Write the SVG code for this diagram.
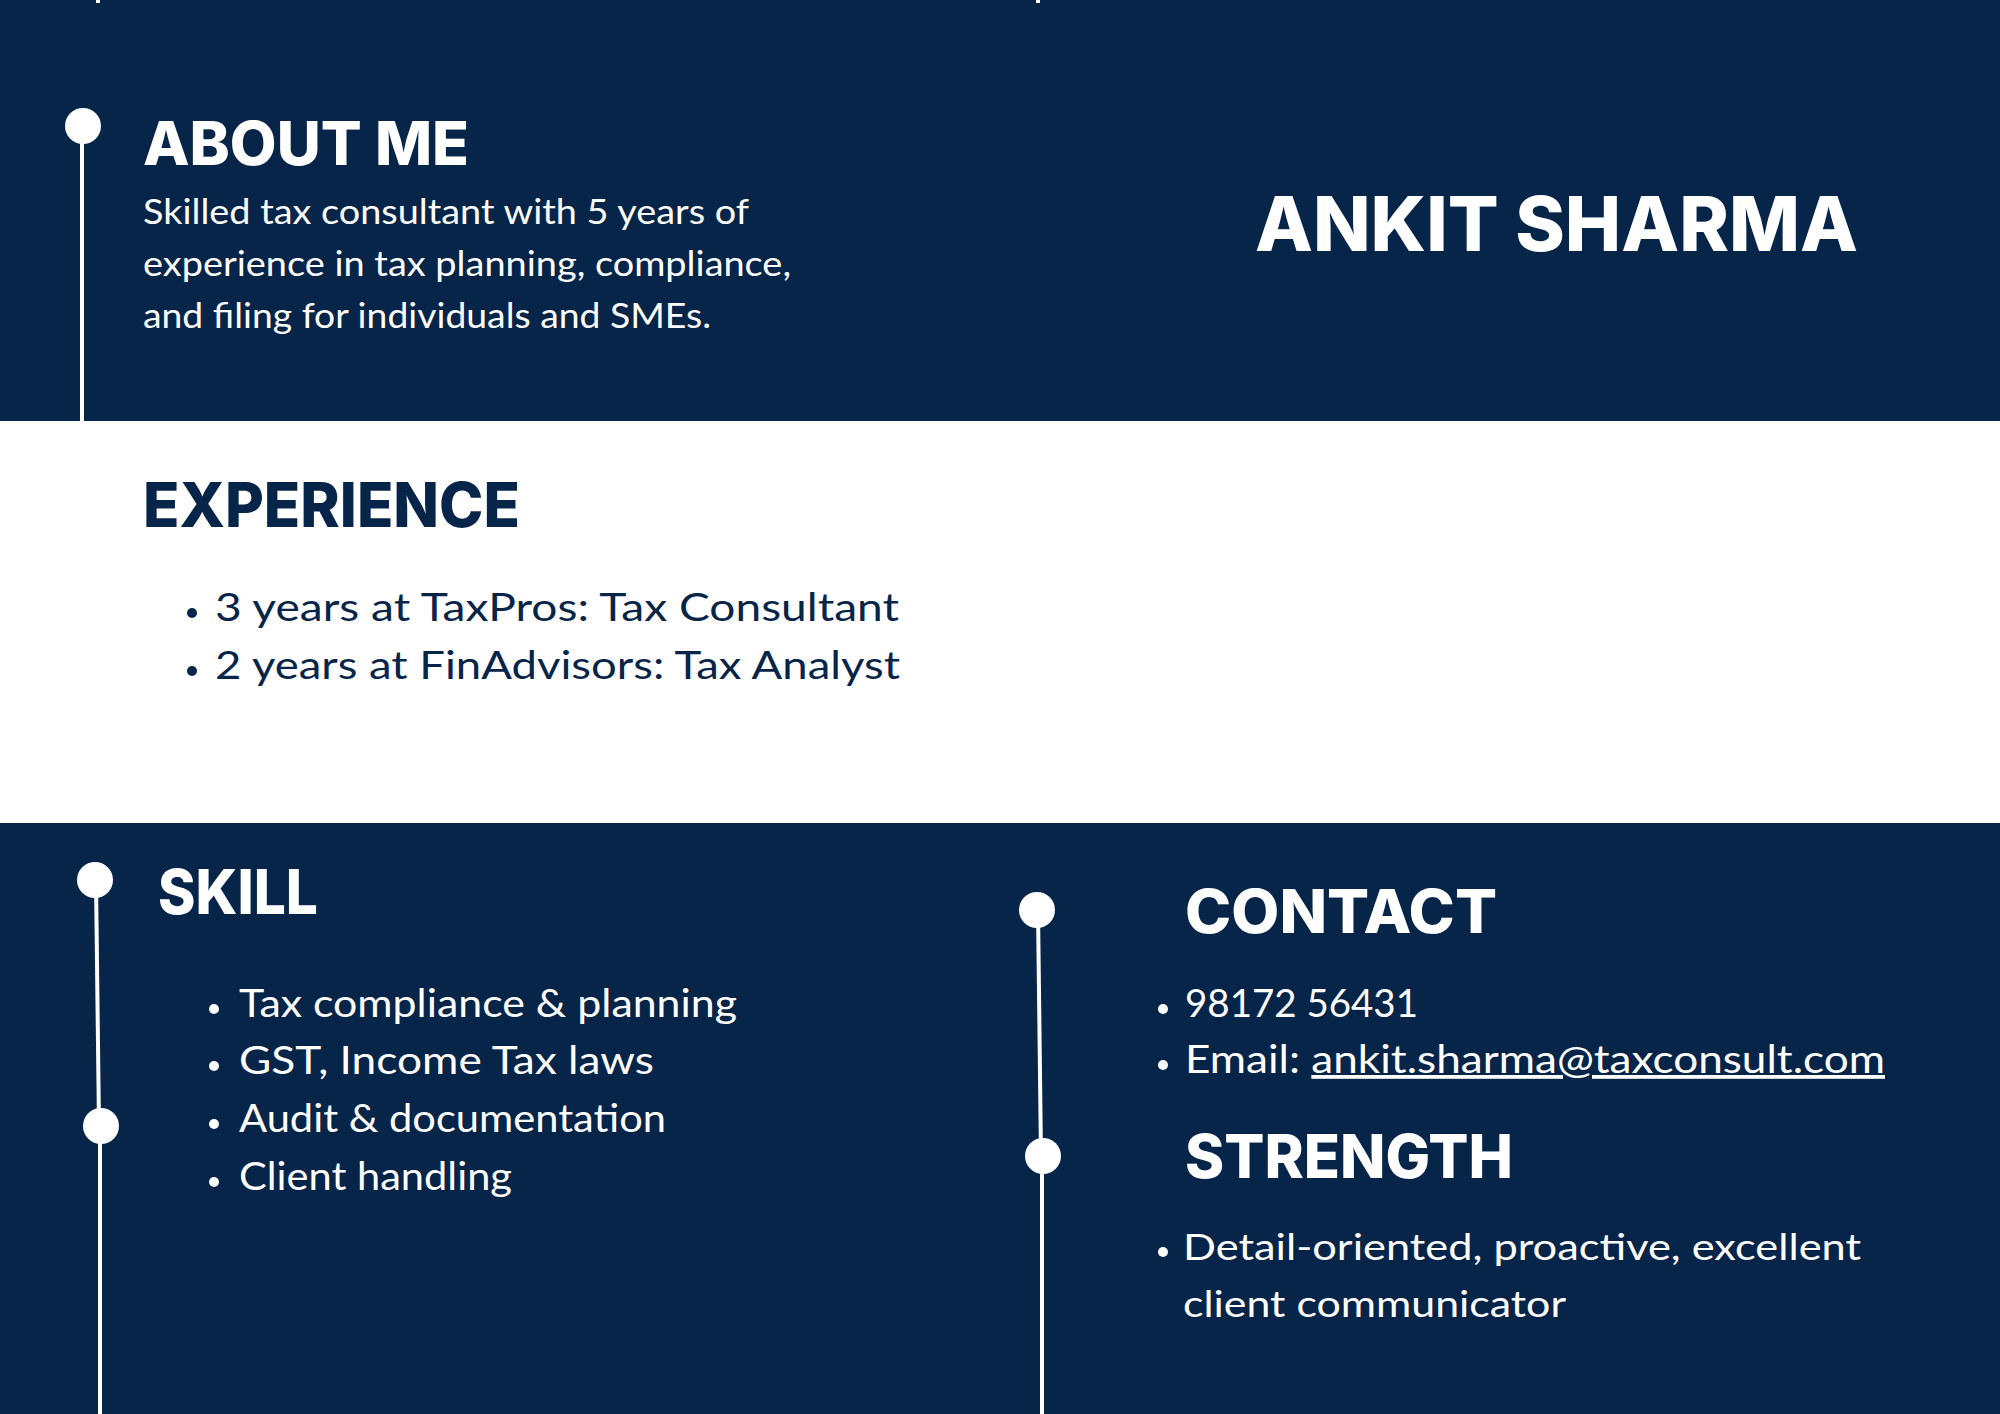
<svg xmlns="http://www.w3.org/2000/svg" width="2000" height="1414" viewBox="0 0 2000 1414">
<style>
.band{fill:#072549}
.head{font-family:Inter,"Liberation Sans",sans-serif;font-weight:800;fill:#ffffff}
.headd{font-family:Inter,"Liberation Sans",sans-serif;font-weight:800;fill:#072549}
.body{font-family:Lato,"Liberation Sans",sans-serif;font-weight:400;fill:#ffffff}
.bodyd{font-family:Lato,"Liberation Sans",sans-serif;font-weight:400;fill:#072549}
.dot{fill:#ffffff}
.dotd{fill:#072549}
.line{stroke:#ffffff;stroke-width:4;fill:none}
.node{fill:#ffffff}
</style>
<rect x="0" y="0" width="2000" height="1414" fill="#ffffff"/>
<rect class="band" x="0" y="0" width="2000" height="421"/>
<rect class="band" x="0" y="823" width="2000" height="591"/>
<rect x="96" y="0" width="4" height="3" fill="#ffffff"/>
<rect x="1036" y="0" width="4" height="3" fill="#ffffff"/>
<g id="connectors">
<line class="line" x1="82" y1="126" x2="82" y2="421"/>
<line class="line" x1="96" y1="880" x2="99" y2="1126"/>
<line class="line" x1="100" y1="1126" x2="100" y2="1414"/>
<line class="line" x1="1038" y1="910" x2="1041" y2="1156"/>
<line class="line" x1="1042" y1="1156" x2="1042" y2="1414"/>
</g>
<g id="about">
<circle class="node" cx="83" cy="126" r="18"/>
<text class="head" x="143" y="165" font-size="60" textLength="326" lengthAdjust="spacingAndGlyphs">ABOUT ME</text>
<text class="body" x="143" y="224" font-size="34" textLength="606" lengthAdjust="spacingAndGlyphs">Skilled tax consultant with 5 years of</text>
<text class="body" x="143" y="276" font-size="34" textLength="648" lengthAdjust="spacingAndGlyphs">experience in tax planning, compliance,</text>
<text class="body" x="143" y="328" font-size="34" textLength="568" lengthAdjust="spacingAndGlyphs">and filing for individuals and SMEs.</text>
</g>
<g id="name">
<text class="head" x="1255" y="251" font-size="75" textLength="603" lengthAdjust="spacingAndGlyphs">ANKIT SHARMA</text>
</g>
<g id="experience">
<text class="headd" x="143" y="527" font-size="62" textLength="377" lengthAdjust="spacingAndGlyphs">EXPERIENCE</text>
<circle class="dotd" cx="192" cy="613" r="5"/>
<text class="bodyd" x="215" y="621" font-size="39" textLength="684" lengthAdjust="spacingAndGlyphs">3 years at TaxPros: Tax Consultant</text>
<circle class="dotd" cx="192" cy="671" r="5"/>
<text class="bodyd" x="215" y="679" font-size="39" textLength="685" lengthAdjust="spacingAndGlyphs">2 years at FinAdvisors: Tax Analyst</text>
</g>
<g id="skill">
<circle class="node" cx="95" cy="880" r="18"/>
<circle class="node" cx="101" cy="1126" r="18"/>
<text class="head" x="158" y="914" font-size="62" textLength="160" lengthAdjust="spacingAndGlyphs">SKILL</text>
<circle class="dot" cx="214" cy="1009" r="5"/>
<text class="body" x="239" y="1017" font-size="39" textLength="498" lengthAdjust="spacingAndGlyphs">Tax compliance &amp; planning</text>
<circle class="dot" cx="214" cy="1066" r="5"/>
<text class="body" x="239" y="1074" font-size="39" textLength="415" lengthAdjust="spacingAndGlyphs">GST, Income Tax laws</text>
<circle class="dot" cx="214" cy="1124" r="5"/>
<text class="body" x="239" y="1132" font-size="39" textLength="427" lengthAdjust="spacingAndGlyphs">Audit &amp; documentation</text>
<circle class="dot" cx="214" cy="1182" r="5"/>
<text class="body" x="239" y="1190" font-size="39" textLength="273" lengthAdjust="spacingAndGlyphs">Client handling</text>
</g>
<g id="contact">
<circle class="node" cx="1037" cy="910" r="18"/>
<text class="head" x="1185" y="933" font-size="60" textLength="312" lengthAdjust="spacingAndGlyphs">CONTACT</text>
<circle class="dot" cx="1163" cy="1009" r="5"/>
<text class="body" x="1185" y="1017" font-size="38" textLength="233" lengthAdjust="spacingAndGlyphs">98172 56431</text>
<circle class="dot" cx="1163" cy="1065" r="5"/>
<text class="body" x="1185" y="1073" font-size="38" textLength="700" lengthAdjust="spacingAndGlyphs">Email: <tspan text-decoration="underline">ankit.sharma@taxconsult.com</tspan></text>
</g>
<g id="strength">
<circle class="node" cx="1043" cy="1156" r="18"/>
<text class="head" x="1185" y="1178" font-size="60" textLength="328" lengthAdjust="spacingAndGlyphs">STRENGTH</text>
<circle class="dot" cx="1163" cy="1252" r="5"/>
<text class="body" x="1183" y="1260" font-size="37" textLength="678" lengthAdjust="spacingAndGlyphs">Detail-oriented, proactive, excellent</text>
<text class="body" x="1183" y="1317" font-size="37" textLength="383" lengthAdjust="spacingAndGlyphs">client communicator</text>
</g>
</svg>
